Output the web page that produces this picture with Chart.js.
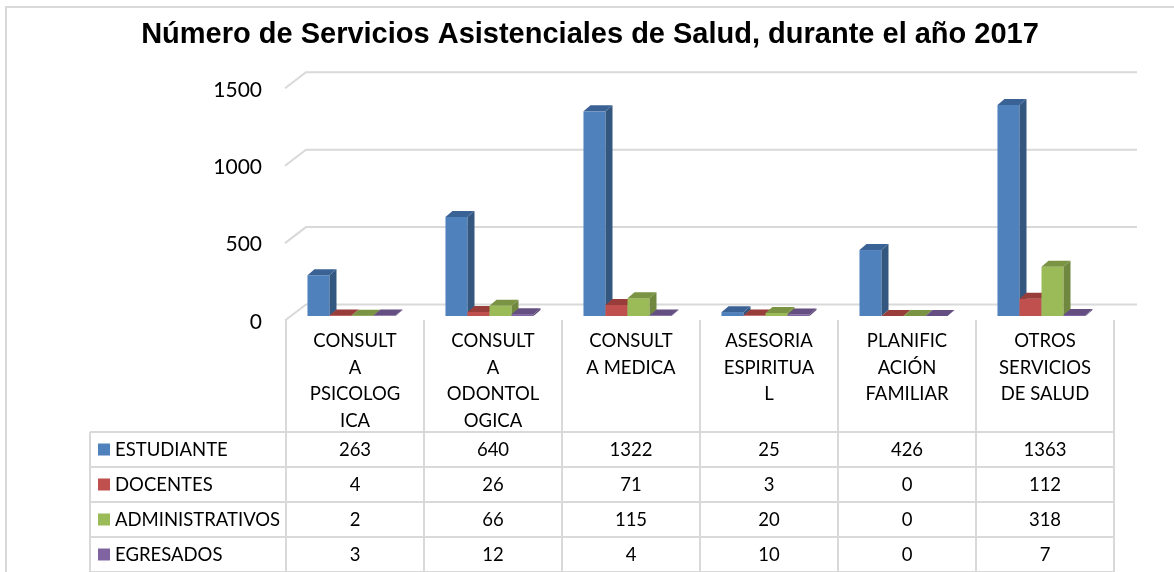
<!DOCTYPE html>
<html>
<head>
<meta charset="utf-8">
<script src="https://cdn.jsdelivr.net/npm/chart.js@4.4.0/dist/chart.umd.min.js"></script>
<style>
  html, body { margin: 0; padding: 0; background: #fff; }
  #wrap { width: 1174px; height: 572px; }
</style>
</head>
<body>
<div id="wrap"><canvas id="chart" width="1174" height="572"></canvas></div>
<script>
// data
const categories = [
  ['CONSULT', 'A', 'PSICOLOG', 'ICA'],
  ['CONSULT', 'A', 'ODONTOL', 'OGICA'],
  ['CONSULT', 'A MEDICA'],
  ['ASESORIA', 'ESPIRITUA', 'L'],
  ['PLANIFIC', 'ACIÓN', 'FAMILIAR'],
  ['OTROS', 'SERVICIOS', 'DE SALUD']
];
const seriesNames = ['ESTUDIANTE', 'DOCENTES', 'ADMINISTRATIVOS', 'EGRESADOS'];
const estudiante = [263, 640, 1322, 25, 426, 1363];
const docentes = [4, 26, 71, 3, 0, 112];
const administrativos = [2, 66, 115, 20, 0, 318];
const egresados = [3, 12, 4, 10, 0, 7];
const yTicks = [0, 500, 1000, 1500];

const FONT = "Lato, 'Open Sans', sans-serif";
const GRID = '#d9d9d9';

// front / side / top colours for the 3D columns
const faces = [
  { front: '#4F81BD', side: '#34577F', top: '#3B6294' },
  { front: '#C0504D', side: '#8B3936', top: '#993D3A' },
  { front: '#9BBB59', side: '#6F873E', top: '#7A9444' },
  { front: '#8064A2', side: '#5C4877', top: '#654F82' }
];
const DEPTH_X = 7, DEPTH_Y = 6;
const ROW_H = 35, TABLE_LEFT = 90;

// frame around the whole chart
const framePlugin = {
  id: 'frame',
  beforeDraw(chart) {
    const ctx = chart.ctx;
    ctx.save();
    ctx.fillStyle = '#fff';
    ctx.fillRect(0, 0, chart.width, chart.height);
    ctx.strokeStyle = GRID;
    ctx.lineWidth = 2;
    ctx.strokeRect(6, 7, chart.width + 20, chart.height + 20);
    ctx.restore();
  }
};

// 3D walls and columns
const bars3dPlugin = {
  id: 'bars3d',
  beforeDatasetsDraw(chart) {
    const ctx = chart.ctx, area = chart.chartArea, y = chart.scales.y;
    ctx.save();
    ctx.strokeStyle = GRID;
    ctx.lineWidth = 2;
    yTicks.forEach(v => {
      const py = y.getPixelForValue(v);
      ctx.beginPath();
      ctx.moveTo(area.left - 1, py + 4.5);
      ctx.lineTo(area.left + 20, py - 11.5);
      ctx.lineTo(area.right + 23, py - 11.5);
      ctx.stroke();
    });
    ctx.restore();
  },
  beforeDatasetDraw() {
    return false;
  },
  afterDatasetsDraw(chart) {
    const ctx = chart.ctx;
    const n = chart.data.labels.length;
    ctx.save();
    for (let i = 0; i < n; i++) {
      chart.data.datasets.forEach((ds, d) => {
        const bar = chart.getDatasetMeta(d).data[i];
        const c = faces[d];
        const w = bar.width;
        const l = bar.x - w / 2 - 3.5, r = l + w;
        const top = Math.min(bar.y, bar.base), base = bar.base;
        // front
        ctx.fillStyle = c.front;
        ctx.fillRect(l, top, w, base - top);
        // side
        ctx.fillStyle = c.side;
        ctx.beginPath();
        ctx.moveTo(r, top);
        ctx.lineTo(r + DEPTH_X, top - DEPTH_Y);
        ctx.lineTo(r + DEPTH_X, base - DEPTH_Y);
        ctx.lineTo(r, base);
        ctx.closePath();
        ctx.fill();
        // top
        ctx.fillStyle = c.top;
        ctx.beginPath();
        ctx.moveTo(l, top);
        ctx.lineTo(r, top);
        ctx.lineTo(r + DEPTH_X, top - DEPTH_Y);
        ctx.lineTo(l + DEPTH_X, top - DEPTH_Y);
        ctx.closePath();
        ctx.fill();
      });
    }
    ctx.restore();
  }
};

// data table under the category labels
const tablePlugin = {
  id: 'dataTable',
  afterDraw(chart) {
    const ctx = chart.ctx, area = chart.chartArea, x = chart.scales.x;
    const n = chart.data.labels.length;
    const colW = (area.right - area.left) / n;
    const rowTop = x.bottom;
    const rows = chart.data.datasets.length;
    const bottom = rowTop + rows * ROW_H;
    ctx.save();
    ctx.strokeStyle = GRID;
    ctx.lineWidth = 2;
    for (let k = 0; k <= n; k++) {
      const px = Math.round(area.left + k * colW);
      ctx.beginPath();
      ctx.moveTo(px, area.bottom + 4);
      ctx.lineTo(px, bottom);
      ctx.stroke();
    }
    ctx.beginPath();
    ctx.moveTo(TABLE_LEFT, rowTop);
    ctx.lineTo(TABLE_LEFT, bottom);
    ctx.stroke();
    for (let r = 0; r <= rows; r++) {
      const py = Math.round(rowTop + r * ROW_H);
      ctx.beginPath();
      ctx.moveTo(TABLE_LEFT, py);
      ctx.lineTo(area.right, py);
      ctx.stroke();
    }
    ctx.font = '18.5px ' + FONT;
    ctx.textBaseline = 'middle';
    chart.data.datasets.forEach((ds, d) => {
      const cy = rowTop + d * ROW_H + ROW_H / 2;
      ctx.fillStyle = faces[d].front;
      ctx.fillRect(TABLE_LEFT + 8, cy - 6, 12, 12);
      ctx.fillStyle = '#000';
      ctx.textAlign = 'left';
      ctx.fillText(ds.label, TABLE_LEFT + 25, cy + 1);
      ctx.textAlign = 'center';
      ds.data.forEach((v, i) => {
        ctx.fillText(String(v), x.getPixelForValue(i), cy + 1);
      });
    });
    ctx.restore();
  }
};

new Chart(document.getElementById('chart'), {
  type: 'bar',
  data: {
    labels: categories,
    datasets: [
      { label: seriesNames[0], data: estudiante, backgroundColor: faces[0].front },
      { label: seriesNames[1], data: docentes, backgroundColor: faces[1].front },
      { label: seriesNames[2], data: administrativos, backgroundColor: faces[2].front },
      { label: seriesNames[3], data: egresados, backgroundColor: faces[3].front }
    ]
  },
  options: {
    responsive: false,
    animation: false,
    layout: { padding: { left: 6, top: 0, right: 0, bottom: 4 * ROW_H } },
    datasets: { bar: { categoryPercentage: 0.638, barPercentage: 1 } },
    plugins: {
      legend: { display: false },
      tooltip: { enabled: false },
      title: {
        display: true,
        text: 'Número de Servicios Asistenciales de Salud, durante el año 2017',
        color: '#000',
        font: { family: "'Liberation Sans', Arial, sans-serif", size: 29, weight: 'bold' },
        padding: { top: 18, bottom: 31 }
      }
    },
    scales: {
      x: {
        grid: { display: false, drawTicks: false },
        border: { display: false },
        ticks: {
          color: '#000',
          padding: 12,
          maxRotation: 0,
          autoSkip: false,
          font: { family: FONT, size: 18.5, lineHeight: 1.43 }
        },
        afterFit(s) { s.height = 116; }
      },
      y: {
        min: 0,
        max: 1500,
        grid: { display: false, drawTicks: false },
        border: { display: false },
        ticks: {
          stepSize: 500,
          color: '#000',
          padding: 24,
          labelOffset: 6,
          font: { family: FONT, size: 21 },
          callback: v => String(v)
        },
        afterFit(s) { s.width = 280; }
      },
      y2: {
        position: 'right',
        grid: { display: false, drawTicks: false },
        border: { display: false },
        ticks: { display: false },
        afterFit(s) { s.width = 60; }
      }
    }
  },
  plugins: [framePlugin, bars3dPlugin, tablePlugin]
});
</script>
</body>
</html>
